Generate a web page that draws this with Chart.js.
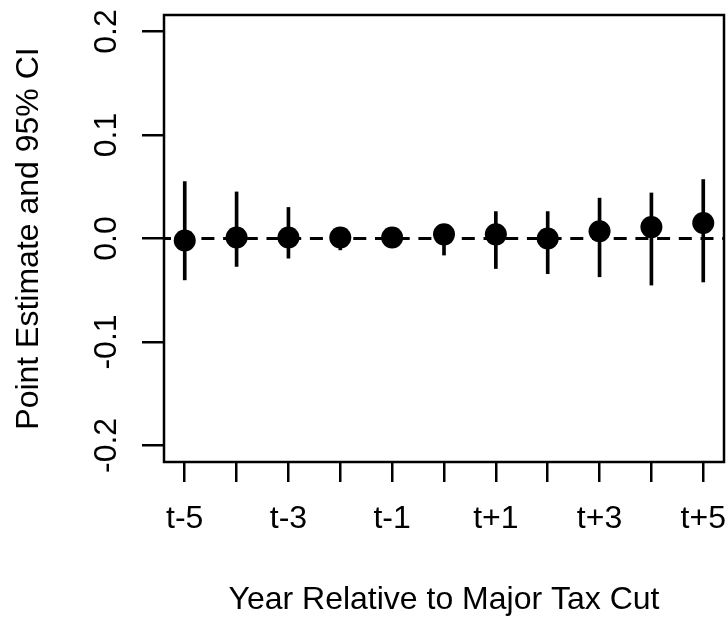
<!DOCTYPE html>
<html>
<head>
<meta charset="utf-8">
<script src="https://cdn.jsdelivr.net/npm/chart.js@4.4.1/dist/chart.umd.min.js"></script>
<style>
  body { margin: 0; background: #fff; }
</style>
</head>
<body>
<canvas id="eventChart" width="726" height="619"></canvas>
<script>
// event-time estimates around the tax cut (t = 0)
const years = [-5, -4, -3, -2, -1, 0, 1, 2, 3, 4, 5];
const estimates = [-0.002, 0.001, 0.001, 0.001, 0.001, 0.004, 0.004, 0.000, 0.007, 0.011, 0.015];
const ciLower = [-0.040, -0.027, -0.019, -0.011, -0.007, -0.016, -0.029, -0.034, -0.037, -0.045, -0.042];
const ciUpper = [0.055, 0.045, 0.030, 0.010, 0.008, 0.013, 0.026, 0.026, 0.039, 0.044, 0.057];
const xTickLabels = ["t-5", "", "t-3", "", "t-1", "", "t+1", "", "t+3", "", "t+5"];
const yTicks = [-0.2, -0.1, 0, 0.1, 0.2];
const yTickLabels = ["-0.2", "-0.1", "0.0", "0.1", "0.2"];
const refLine = 0;

const FONT = '"Liberation Sans", Arial, sans-serif';
const FONT_SIZE = 32;

// box around plot region + dashed zero line + rotated y labels (R style)
const rPlotPlugin = {
  id: "rPlot",
  beforeDatasetsDraw(chart) {
    const { ctx, chartArea: a } = chart;
    const y0 = chart.scales.y.getPixelForValue(refLine);
    ctx.save();
    ctx.strokeStyle = "#000";
    ctx.lineWidth = 3;
    ctx.setLineDash([13, 8.7]);
    ctx.lineDashOffset = 6;
    ctx.beginPath();
    ctx.moveTo(a.left, y0);
    ctx.lineTo(a.right, y0);
    ctx.stroke();
    ctx.restore();
  },
  afterDraw(chart) {
    const { ctx, chartArea: a } = chart;
    const yScale = chart.scales.y;
    ctx.save();
    ctx.strokeStyle = "#000";
    ctx.lineWidth = 2.5;
    ctx.strokeRect(a.left, a.top, a.right - a.left, a.bottom - a.top);

    ctx.font = FONT_SIZE + "px " + FONT;
    ctx.fillStyle = "#000";
    ctx.textAlign = "center";
    ctx.textBaseline = "middle";
    yScale.ticks.forEach((t) => {
      const label = yTickLabels[yTicks.indexOf(t.value)];
      ctx.save();
      ctx.translate(107, yScale.getPixelForValue(t.value));
      ctx.rotate(-Math.PI / 2);
      ctx.fillText(label, 0, 0);
      ctx.restore();
    });
    ctx.restore();
  },
};

new Chart(document.getElementById("eventChart"), {
  type: "scatter",
  data: {
    datasets: [
      {
        type: "bar",
        label: "95% CI",
        data: years.map((x, i) => ({ x: x, y: [ciLower[i], ciUpper[i]] })),
        backgroundColor: "#000",
        borderWidth: 0,
        barThickness: 3,
        order: 2,
      },
      {
        type: "scatter",
        label: "Point Estimate",
        data: years.map((x, i) => ({ x: x, y: estimates[i] })),
        pointRadius: 11,
        pointBackgroundColor: "#000",
        pointBorderWidth: 0,
        order: 1,
      },
    ],
  },
  options: {
    responsive: false,
    animation: false,
    layout: { autoPadding: false, padding: { left: 0, top: 15, right: 2, bottom: 0 } },
    plugins: {
      legend: { display: false },
      tooltip: { enabled: false },
    },
    scales: {
      x: {
        type: "linear",
        min: -5.4,
        max: 5.4,
        offset: false,
        afterBuildTicks: (scale) => {
          scale.ticks = years.map((v) => ({ value: v }));
        },
        afterFit: (scale) => {
          scale.height = 157;
          scale.paddingLeft = 0;
          scale.paddingRight = 0;
        },
        border: { display: false },
        grid: {
          offset: false,
          drawOnChartArea: false,
          drawTicks: true,
          tickLength: 20,
          color: "#000",
          lineWidth: 2.5,
        },
        ticks: {
          autoSkip: false,
          maxRotation: 0,
          padding: 18,
          color: "#000",
          font: { family: FONT, size: FONT_SIZE },
          callback: (value, index) => xTickLabels[index],
        },
        title: {
          display: true,
          text: "Year Relative to Major Tax Cut",
          color: "#000",
          font: { family: FONT, size: FONT_SIZE },
          padding: { top: 0, bottom: 0 },
        },
      },
      y: {
        type: "linear",
        min: -0.216,
        max: 0.216,
        afterBuildTicks: (scale) => {
          scale.ticks = yTicks.map((v) => ({ value: v }));
        },
        afterFit: (scale) => {
          scale.width = 164;
          scale.paddingTop = 0;
          scale.paddingBottom = 0;
        },
        border: { display: false },
        grid: {
          drawOnChartArea: false,
          drawTicks: true,
          tickLength: 22,
          color: "#000",
          lineWidth: 2.5,
        },
        ticks: { display: false },
        title: {
          display: true,
          text: "Point Estimate and 95% CI",
          color: "#000",
          font: { family: FONT, size: FONT_SIZE },
          padding: { top: 10, bottom: 0 },
        },
      },
    },
  },
  plugins: [rPlotPlugin],
});
</script>
</body>
</html>
